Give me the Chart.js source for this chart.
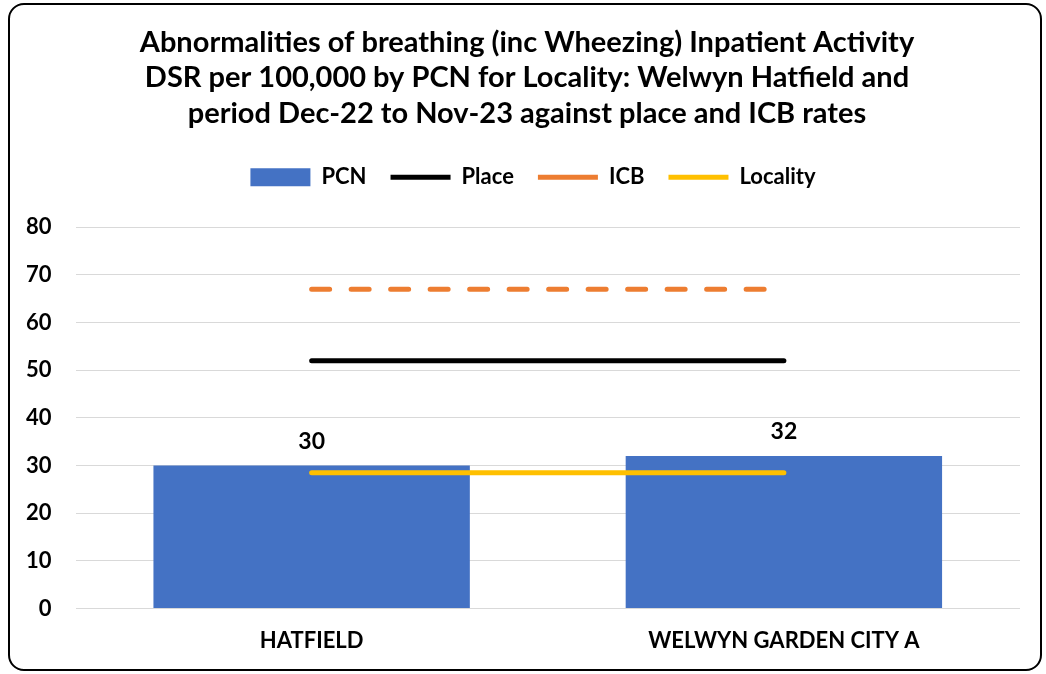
<!DOCTYPE html>
<html>
<head>
<meta charset="utf-8">
<script src="https://cdn.jsdelivr.net/npm/chart.js@4/dist/chart.umd.min.js"></script>
<style>
  html, body { margin: 0; padding: 0; background: #fff; }
  #wrap { position: relative; width: 1046px; height: 674px; }
  #frame {
    position: absolute; left: 8px; top: 3px; width: 1030px; height: 664px;
    border: 2px solid #000; border-radius: 16px; pointer-events: none;
  }
</style>
</head>
<body>
<div id="wrap">
  <canvas id="myChart" width="1046" height="674"></canvas>
  <div id="frame"></div>
</div>
<script>
const categories = ['HATFIELD', 'WELWYN GARDEN CITY A'];
const pcnValues = [30, 32];
const placeValues = [52, 52];
const icbValues = [67, 67];
const localityValues = [28.5, 28.5];
const titleLines = [
  'Abnormalities of breathing (inc Wheezing) Inpatient Activity',
  'DSR per 100,000 by PCN for Locality: Welwyn Hatfield and',
  'period Dec-22 to Nov-23 against place and ICB rates'
];

const font = 'Lato, "Open Sans", sans-serif';

// value labels above the bars, white box behind like excel
const barLabels = {
  id: 'barLabels',
  afterDatasetsDraw(chart) {
    const ctx = chart.ctx;
    const meta = chart.getDatasetMeta(0);
    ctx.save();
    ctx.font = 'bold 23px ' + font;
    ctx.textAlign = 'center';
    ctx.textBaseline = 'middle';
    meta.data.forEach(function(bar, i) {
      const txt = String(pcnValues[i]);
      const y = bar.y - 24;
      const w = ctx.measureText(txt).width + 12;
      ctx.fillStyle = '#fff';
      ctx.fillRect(bar.x - w / 2, y - 14, w, 28);
      ctx.fillStyle = '#000';
      ctx.fillText(txt, bar.x, y);
    });
    ctx.restore();
  }
};

// more room under the legend, and title/legend sit a little right of centre
const legendGap = {
  id: 'legendGap',
  beforeInit(chart) {
    const fitOrig = chart.legend.fit;
    chart.legend.fit = function() {
      fitOrig.bind(chart.legend)();
      this.height += 29;
    };
  },
  afterLayout(chart) {
    chart.legend.left += 22;
    chart.legend.right += 22;
    chart.titleBlock.left += 16;
    chart.titleBlock.right += 16;
  }
};

const ctx = document.getElementById('myChart');

new Chart(ctx, {
  type: 'bar',
  data: {
    labels: categories,
    datasets: [
      {
        label: 'PCN',
        data: pcnValues,
        backgroundColor: '#4472C4',
        borderWidth: 0,
        barPercentage: 0.67,
        categoryPercentage: 1,
        pointStyle: 'rect',
        order: 1
      },
      {
        type: 'line',
        label: 'Place',
        data: placeValues,
        borderColor: '#000000',
        backgroundColor: '#000000',
        borderWidth: 5,
        borderCapStyle: 'round',
        pointRadius: 0,
        pointStyle: 'line',
        order: 0
      },
      {
        type: 'line',
        label: 'ICB',
        data: icbValues,
        borderColor: '#ED7D31',
        backgroundColor: '#ED7D31',
        borderWidth: 5,
        borderDash: [18, 21.5],
        borderCapStyle: 'round',
        pointRadius: 0,
        pointStyle: 'line',
        order: 0
      },
      {
        type: 'line',
        label: 'Locality',
        data: localityValues,
        borderColor: '#FFC000',
        backgroundColor: '#FFC000',
        borderWidth: 5,
        borderCapStyle: 'round',
        pointRadius: 0,
        pointStyle: 'line',
        order: 0
      }
    ]
  },
  options: {
    responsive: false,
    animation: false,
    layout: {
      padding: { top: 25, left: 2, right: 26, bottom: 9 }
    },
    plugins: {
      title: {
        display: true,
        text: titleLines,
        color: '#000',
        font: { family: font, size: 29, weight: 'bold', lineHeight: 1.22 },
        padding: { top: 0, bottom: 11 }
      },
      legend: {
        position: 'top',
        labels: {
          color: '#000',
          font: { family: font, size: 22, weight: 'bold' },
          usePointStyle: true,
          pointStyleWidth: 60,
          boxWidth: 60,
          boxHeight: 18,
          padding: 24,
          sort: function(a, b) { return a.datasetIndex - b.datasetIndex; }
        }
      },
      tooltip: { enabled: false }
    },
    scales: {
      y: {
        min: 0,
        max: 80,
        ticks: {
          stepSize: 10,
          color: '#000',
          padding: 24,
          font: { family: font, size: 22, weight: 'bold' }
        },
        grid: {
          color: '#d9d9d9',
          lineWidth: 1,
          drawTicks: false
        },
        border: { display: false }
      },
      x: {
        ticks: {
          color: '#000',
          padding: 11,
          font: { family: font, size: 22, weight: 'bold' }
        },
        grid: { display: false },
        border: { display: false }
      }
    }
  },
  plugins: [barLabels, legendGap]
});
</script>
</body>
</html>
